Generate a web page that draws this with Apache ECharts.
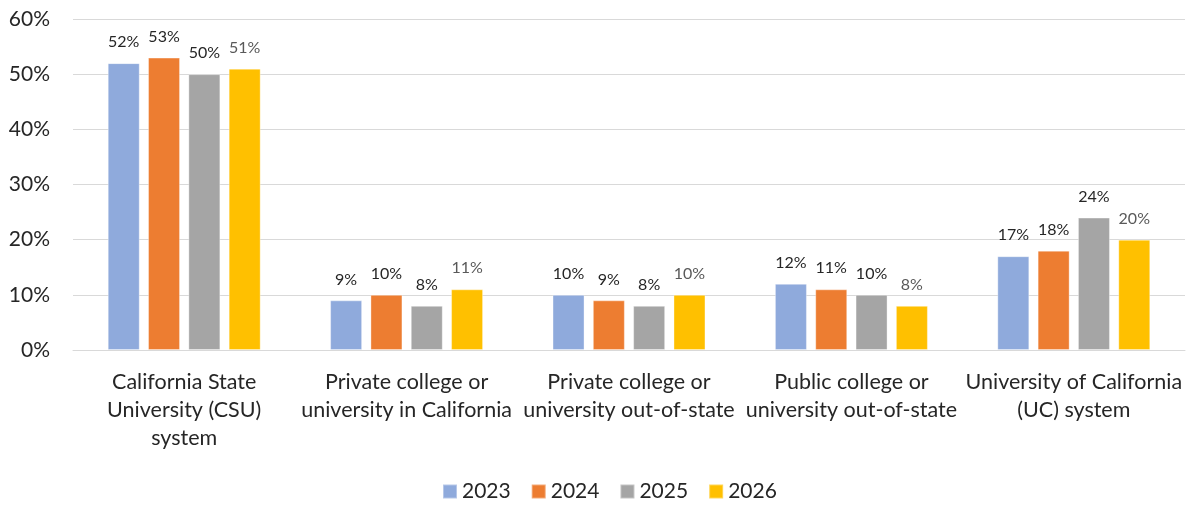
<!DOCTYPE html>
<html>
<head>
<meta charset="utf-8">
<script src="https://cdn.jsdelivr.net/npm/echarts@6/dist/echarts.min.js"></script>
<style>
html,body{margin:0;padding:0;background:#fff;}
#chart{width:1191px;height:506px;}
</style>
</head>
<body>
<div id="chart"></div>
<script>
const categories = [
  "California State\nUniversity (CSU)\nsystem",
  "Private college or\nuniversity in California",
  "Private college or\nuniversity out-of-state",
  "Public college or\nuniversity out-of-state",
  "University of California\n(UC) system"
];
const seriesNames = ["2023", "2024", "2025", "2026"];
const v2023 = [52, 9, 10, 12, 17];
const v2024 = [53, 10, 9, 11, 18];
const v2025 = [50, 8, 8, 10, 24];
const v2026 = [51, 11, 10, 8, 20];
const yTicks = [0, 10, 20, 30, 40, 50, 60];

const colors = ["#8faadc", "#ed7d31", "#a5a5a5", "#ffc000"];
const labelColors = ["#262626", "#262626", "#262626", "#595959"];
const values = [v2023, v2024, v2025, v2026];
const FONT = "Lato, 'Open Sans', sans-serif";

const chart = echarts.init(document.getElementById('chart'));
chart.setOption({
  animation: false,
  textStyle: { fontFamily: FONT },
  grid: { left: 73, right: 6, top: 19, bottom: 156, containLabel: false },
  legend: {
    top: 481,
    left: 442,
    padding: [0, 0, 0, 0],
    itemWidth: 14,
    itemHeight: 14,
    itemGap: 20,
    icon: 'rect',
    textStyle: { fontSize: 21, color: '#262626', fontFamily: FONT, padding: [0, 0, 0, 0] },
    data: seriesNames
  },
  xAxis: {
    type: 'category',
    data: categories,
    axisLine: { show: true, lineStyle: { color: '#d9d9d9', width: 1 } },
    axisTick: { show: false },
    axisLabel: {
      interval: 0,
      fontSize: 21.5,
      color: '#262626',
      lineHeight: 28,
      margin: 18,
      fontFamily: FONT
    }
  },
  yAxis: {
    type: 'value',
    min: 0,
    max: 60,
    interval: 10,
    axisLine: { show: false },
    axisTick: { show: false },
    splitLine: { lineStyle: { color: '#d9d9d9', width: 1 } },
    axisLabel: {
      fontSize: 21,
      color: '#262626',
      margin: 23,
      fontFamily: FONT,
      formatter: v => yTicks.includes(v) ? v + '%' : ''
    }
  },
  series: seriesNames.map((name, i) => ({
    name: name,
    type: 'bar',
    data: values[i],
    barWidth: 32,
    barGap: '26%',
    itemStyle: { color: colors[i], borderColor: 'rgba(255,255,255,0.35)', borderWidth: 1 },
    label: {
      show: true,
      position: 'top',
      distance: 13,
      fontSize: 16,
      color: labelColors[i],
      fontFamily: FONT,
      formatter: p => p.value + '%'
    }
  }))
});
</script>
</body>
</html>
